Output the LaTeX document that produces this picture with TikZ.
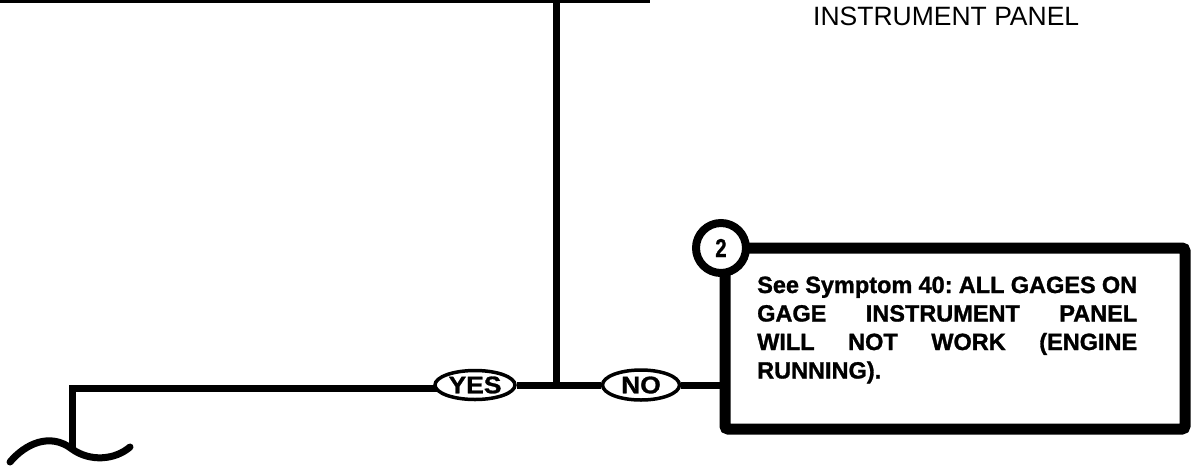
\documentclass[tikz,border=0pt]{standalone}
\usepackage{fontspec}
\setmainfont{Liberation Sans}
\newfontfamily\heavyfont{Liberation Sans}[BoldFeatures={FakeBold=1.2}]
\usetikzlibrary{shapes.geometric}
\begin{document}
\begin{tikzpicture}[x=1pt,y=-1pt,
  mainline/.style={line width=7pt},
  ovalbox/.style={ellipse, draw, line width=3.5pt, fill=white, inner sep=0pt,
    font=\heavyfont\fontsize{24}{24}\selectfont\bfseries},
  stepframe/.style={draw, line width=11pt, rounded corners=3pt, inner sep=0pt,
    minimum width=460pt, minimum height=181pt},
  numcircle/.style={circle, draw, line width=8pt, fill=white, inner sep=0pt,
    minimum size=50pt, font=\heavyfont\fontsize{26}{26}\selectfont\bfseries},
  boxtext/.style={inner sep=0pt, anchor=base west,
    font=\heavyfont\fontsize{23.5}{23.5}\selectfont\bfseries},
  headtext/.style={inner sep=0pt, anchor=base west,
    font=\fontsize{26.5}{26.5}\selectfont}]
\useasboundingbox (0,0) rectangle (1192,467);
\clip (0,0) rectangle (1192,467);

% coordinates
\coordinate (topL) at (0,0.5);
\coordinate (topR) at (650,0.5);
\coordinate (vtop) at (556,-5);
\coordinate (corner) at (72,388);
\coordinate (curvej) at (72,449);
\coordinate (curveL) at (10,462);
\coordinate (curveR) at (130,447);

% header text
\node[headtext] (head) at (813,25) {INSTRUMENT PANEL};

% top line
\draw[line width=4pt] (topL) -- (topR);

% frame and circle
\node[stepframe] (box) at (955,338.5) {};
\node[numcircle] (c2) at (721,248) {\scalebox{0.78}[1]{2}};

% box text
\node[boxtext] (txt) at (757,293) {\vtop{\baselineskip=28.5pt
  \hbox to 380pt{See\hfill Symptom\hfill 40:\hfill ALL\hfill GAGES\hfill ON}
  \hbox to 380pt{GAGE\hfill INSTRUMENT\hfill PANEL}
  \hbox to 380pt{WILL\hfill NOT\hfill WORK\hfill (ENGINE}
  \hbox{RUNNING).}}};

% ovals
\node[ovalbox, minimum width=80pt, minimum height=29pt] (yes) at (475,385) {\scalebox{1.1}[1]{YES}};
\node[ovalbox, minimum width=77pt, minimum height=30pt] (no) at (641,385) {\scalebox{1.1}[1]{NO}};

% connectors
\draw[mainline] (vtop) -- (vtop |- yes.east);
\draw[mainline] (yes.east) -- (no.west);
\draw[mainline] (no.east) -- (no.east -| box.west);
\draw[mainline, line join=miter] (curvej) -- (corner) -- (corner -| yes.west) -- (yes.west);
\draw[mainline, line cap=round] (curveL) .. controls (25,444) and (50,432) .. (curvej)
  .. controls (90,462) and (115,460) .. (curveR);
\end{tikzpicture}
\end{document}
